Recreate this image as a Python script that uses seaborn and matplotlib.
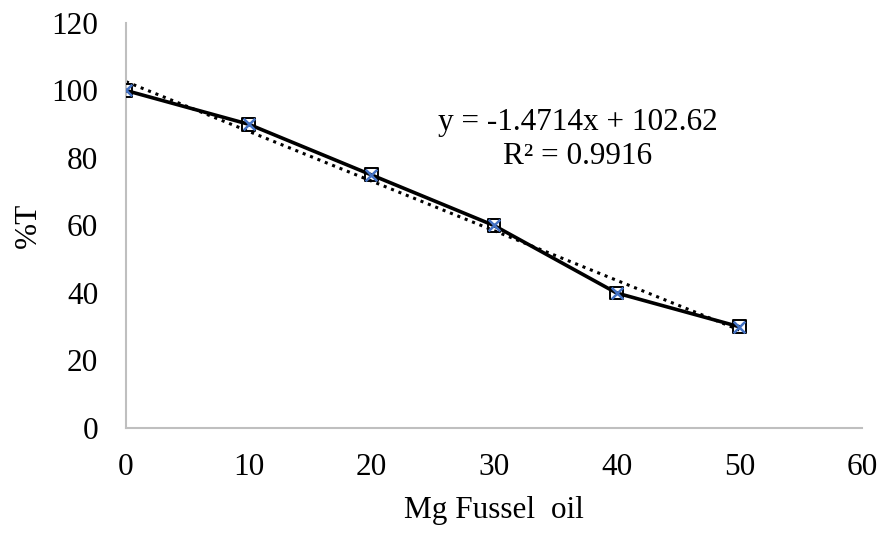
import numpy as np
import pandas as pd
import seaborn as sns
import matplotlib.pyplot as plt

# data
mg_fussel_oil = [0, 10, 20, 30, 40, 50]
percent_t = [100, 90, 75, 60, 40, 30]

sns.set_style('white')
plt.rcParams['font.family'] = ['Liberation Serif', 'DejaVu Serif']
plt.rcParams.update({'text.color': 'black', 'axes.labelcolor': 'black',
                     'xtick.color': 'black', 'ytick.color': 'black'})

df = pd.DataFrame({'x': mg_fussel_oil, 'y': percent_t})

fig = plt.figure(figsize=(8.96, 5.36), dpi=100)
ax = fig.add_axes([0.1406, 0.2015, 0.8214, 0.7556])

# linear trendline
slope, intercept = np.polyfit(df['x'], df['y'], 1)
pred = slope * df['x'] + intercept
r2 = 1 - ((df['y'] - pred) ** 2).sum() / ((df['y'] - df['y'].mean()) ** 2).sum()
xt = np.array([df['x'].min(), df['x'].max()])
ax.plot(xt, slope * xt + intercept, color='black', linestyle=(0, (1, 1.6)), lw=2.2, zorder=2)

sns.lineplot(data=df, x='x', y='y', color='black', lw=2.6, ax=ax, zorder=3)
ax.scatter(df['x'], df['y'], marker='s', s=85, facecolor='none', edgecolor='black', lw=1.4, zorder=4)
ax.scatter(df['x'], df['y'], marker='x', s=70, color='#4472C4', lw=1.8, zorder=5)

ax.text(36.8, 90.6, f'y = {slope:.4f}x + {intercept:.2f}', ha='center', va='center', fontsize=22.5)
ax.text(36.8, 80.5, f'R² = {r2:.4f}', ha='center', va='center', fontsize=22.5)

ax.set_xlim(0, 60)
ax.set_ylim(0, 120)
ax.set_xticks(range(0, 61, 10))
ax.set_yticks(range(0, 121, 20))
ax.tick_params(axis='both', length=0, labelsize=22.5)
ax.tick_params(axis='x', pad=18)
ax.tick_params(axis='y', pad=20)
ax.set_xlabel('Mg Fussel  oil', fontsize=22.5, labelpad=10)
ax.set_ylabel('%T', fontsize=22.5, labelpad=6)

for side in ['top', 'right']:
    ax.spines[side].set_visible(False)
for side in ['left', 'bottom']:
    ax.spines[side].set_color('#BFBFBF')
    ax.spines[side].set_linewidth(1.5)

fig.savefig('out.png', dpi=100)
